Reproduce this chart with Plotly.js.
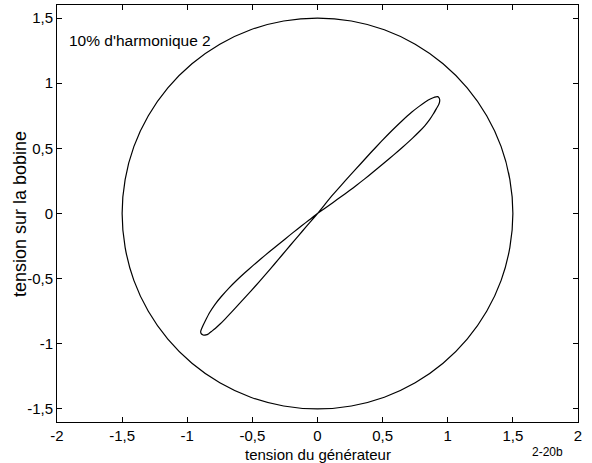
<!DOCTYPE html>
<html>
<head>
<meta charset="utf-8">
<script src="https://cdn.plot.ly/plotly-3.0.1.min.js"></script>
<style>
  html, body { margin: 0; padding: 0; background: #fff; }
  #chart { width: 592px; height: 463px; }
</style>
</head>
<body>
<div id="chart"></div>
<script>
// Reference circle of radius 1.5 (generator voltage vs coil voltage, pure sine)
const circleX = [1.5, 1.477, 1.41, 1.299, 1.149, 0.964, 0.75, 0.513, 0.26, 0,
  -0.26, -0.513, -0.75, -0.964, -1.149, -1.299, -1.41, -1.477, -1.5,
  -1.477, -1.41, -1.299, -1.149, -0.964, -0.75, -0.513, -0.26, 0,
  0.26, 0.513, 0.75, 0.964, 1.149, 1.299, 1.41, 1.477, 1.5];
const circleY = [0, 0.26, 0.513, 0.75, 0.964, 1.149, 1.299, 1.41, 1.477, 1.5,
  1.477, 1.41, 1.299, 1.149, 0.964, 0.75, 0.513, 0.26, 0,
  -0.26, -0.513, -0.75, -0.964, -1.149, -1.299, -1.41, -1.477, -1.5,
  -1.477, -1.41, -1.299, -1.149, -0.964, -0.75, -0.513, -0.26, 0];

// Figure-eight loop with 10 % second harmonic (upper lobe, then lower lobe)
const loopX = [
  0, 0.06, 0.12, 0.18, 0.25, 0.33, 0.41, 0.49, 0.57, 0.65, 0.72, 0.78, 0.83, 0.87, 0.90, 0.92,
  0.932, 0.938, 0.937, 0.93, 0.913, 0.89, 0.862, 0.825, 0.78, 0.73, 0.682, 0.62, 0.55, 0.49,
  0.425, 0.36, 0.30, 0.246, 0.18, 0.12, 0.06,
  0, -0.062, -0.124, -0.186, -0.248, -0.31, -0.372, -0.434, -0.496, -0.558, -0.62, -0.68, -0.735,
  -0.785, -0.828, -0.862, -0.885, -0.897, -0.893,
  -0.878, -0.857, -0.835, -0.815, -0.785, -0.75, -0.71, -0.66, -0.6, -0.54, -0.48, -0.42,
  -0.36, -0.3, -0.24, -0.18, -0.12, -0.06, 0];
const loopY = [
  0, 0.074, 0.146, 0.214, 0.292, 0.38, 0.468, 0.553, 0.635, 0.712, 0.775, 0.822, 0.857, 0.88, 0.893, 0.897,
  0.89, 0.875, 0.855, 0.835, 0.805, 0.765, 0.722, 0.675, 0.627, 0.578, 0.534, 0.48, 0.42, 0.37,
  0.316, 0.264, 0.217, 0.176, 0.128, 0.085, 0.042,
  0, -0.048, -0.096, -0.145, -0.195, -0.245, -0.296, -0.347, -0.4, -0.455, -0.512, -0.572, -0.633,
  -0.695, -0.76, -0.825, -0.873, -0.905, -0.922,
  -0.932, -0.932, -0.922, -0.906, -0.882, -0.85, -0.81, -0.757, -0.692, -0.626, -0.56, -0.492,
  -0.423, -0.352, -0.281, -0.21, -0.14, -0.07, 0];

// Axis ticks (French decimal comma)
const xTickVals = [-2, -1.5, -1, -0.5, 0, 0.5, 1, 1.5, 2];
const xTickText = ['-2', '-1,5', '-1', '-0,5', '0', '0,5', '1', '1,5', '2'];
const yTickVals = [-1.5, -1, -0.5, 0, 0.5, 1, 1.5];
const yTickText = ['-1,5', '-1', '-0,5', '0', '0,5', '1', '1,5'];

const FONT = 'Liberation Sans, Arial, Helvetica, sans-serif';

const traces = [
  { x: circleX, y: circleY, mode: 'lines', type: 'scatter',
    line: { color: '#000', width: 1.2, shape: 'spline' }, hoverinfo: 'skip' },
  { x: loopX, y: loopY, mode: 'lines', type: 'scatter',
    line: { color: '#000', width: 1.2, shape: 'spline', smoothing: 0.6 }, hoverinfo: 'skip' }
];

const axisCommon = {
  showgrid: false, zeroline: false,
  showline: true, linecolor: '#000', linewidth: 1, mirror: 'ticks',
  ticks: 'inside', ticklen: 5, tickcolor: '#000', tickwidth: 1,
  tickfont: { family: FONT, size: 15, color: '#000' },
  tickmode: 'array'
};

const layout = {
  width: 592, height: 463,
  margin: { l: 57, r: 14, t: 5, b: 41 },
  paper_bgcolor: '#fff', plot_bgcolor: '#fff',
  showlegend: false,
  font: { family: FONT, color: '#000' },
  xaxis: Object.assign({}, axisCommon, {
    range: [-2, 2], tickvals: xTickVals, ticktext: xTickText
  }),
  yaxis: Object.assign({}, axisCommon, {
    range: [-1.6, 1.6], tickvals: yTickVals, ticktext: yTickText
  }),
  annotations: [
    { xref: 'paper', yref: 'paper', x: 0.5, y: -0.078, xanchor: 'center', yanchor: 'middle',
      text: 'tension du générateur', showarrow: false,
      font: { family: FONT, size: 15, color: '#000' } },
    { xref: 'paper', yref: 'paper', x: -0.072, y: 0.5, xanchor: 'center', yanchor: 'middle',
      text: 'tension sur la bobine', showarrow: false, textangle: -90,
      font: { family: FONT, size: 18, color: '#000' } },
    { xref: 'paper', yref: 'paper', x: 0.019, y: 0.915, xanchor: 'left', yanchor: 'middle',
      text: "10% d'harmonique 2", showarrow: false,
      font: { family: FONT, size: 15.5, color: '#000' } },
    { xref: 'paper', yref: 'paper', x: 0.9405, y: -0.071, xanchor: 'center', yanchor: 'middle',
      text: '2-20b', showarrow: false,
      font: { family: FONT, size: 12, color: '#000' } }
  ]
};

Plotly.newPlot('chart', traces, layout, { staticPlot: true, displayModeBar: false });
</script>
</body>
</html>
